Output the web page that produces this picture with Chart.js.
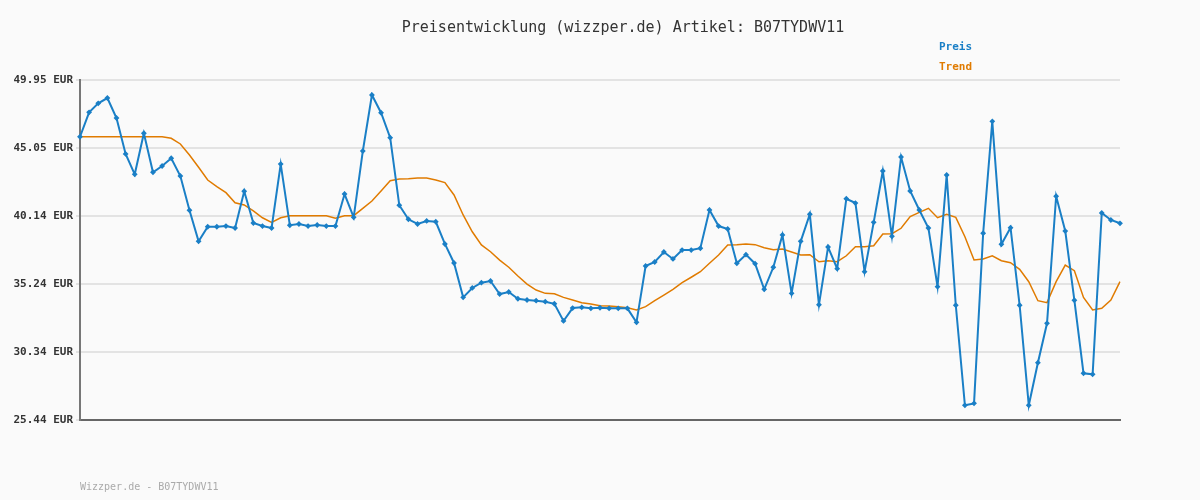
<html>
<body style="margin:0;background:#fafafa">
<div style="width:1200px;height:500px"><canvas id="myChart"></canvas></div>
<script src="https://cdn.jsdelivr.net/npm/chart.js@4/dist/chart.umd.min.js"></script>
<script>
var yTicks = [25.44, 30.34, 35.24, 40.14, 45.05, 49.95];
var preis = [45.86,47.62,48.27,48.65,47.21,44.62,43.15,46.11,43.30,43.75,44.31,43.03,40.56,38.32,39.37,39.37,39.42,39.28,41.93,39.64,
39.42,39.28,43.89,39.48,39.57,39.42,39.50,39.42,39.42,41.73,40.05,44.83,48.87,47.59,45.79,40.92,39.91,39.57,39.79,39.73,
38.13,36.76,34.28,34.96,35.34,35.46,34.52,34.67,34.18,34.09,34.04,33.97,33.82,32.58,33.51,33.56,33.49,33.53,33.49,33.49,
33.49,32.48,36.54,36.83,37.55,37.05,37.69,37.69,37.82,40.58,39.42,39.21,36.74,37.36,36.71,34.86,36.45,38.78,34.57,38.32,
40.27,33.75,37.91,36.35,41.39,41.08,36.13,39.69,43.39,38.68,44.40,41.95,40.58,39.28,35.05,43.10,33.71,26.50,26.64,38.90,
46.97,38.11,39.30,33.71,26.50,29.57,32.41,41.57,39.06,34.07,28.81,28.73,40.36,39.86,39.62];
var trend = [45.86,45.86,45.86,45.86,45.86,45.86,45.86,45.86,45.86,45.86,45.75,45.34,44.54,43.66,42.74,42.26,41.83,41.10,40.94,40.51,
40.02,39.69,40.02,40.17,40.17,40.17,40.17,40.17,39.98,40.17,40.17,40.70,41.23,41.95,42.69,42.81,42.84,42.89,42.89,42.74,
42.55,41.66,40.22,39.01,38.06,37.57,36.97,36.45,35.82,35.24,34.81,34.57,34.54,34.28,34.09,33.90,33.80,33.68,33.66,33.61,
33.53,33.37,33.61,34.04,34.45,34.86,35.34,35.73,36.13,36.74,37.33,38.06,38.08,38.13,38.08,37.86,37.72,37.77,37.55,37.33,
37.36,36.85,36.92,36.85,37.28,37.93,37.93,38.00,38.85,38.87,39.26,40.10,40.41,40.70,40.02,40.27,40.05,38.65,36.97,37.05,
37.28,36.92,36.78,36.30,35.41,34.04,33.90,35.41,36.61,36.20,34.28,33.37,33.49,34.09,35.41];
var labels = preis.map(function (v, i) { return i + 1; });

var textPlugin = {
    id: 'texts',
    afterDraw: function (chart) {
        var ctx = chart.ctx;
        ctx.save();
        ctx.textBaseline = 'middle';
        ctx.font = '15px "DejaVu Sans Mono"';
        ctx.fillStyle = '#333';
        ctx.textAlign = 'center';
        ctx.fillText('Preisentwicklung (wizzper.de) Artikel: B07TYDWV11', 623, 28);
        ctx.textAlign = 'left';
        ctx.font = 'bold 11px "DejaVu Sans Mono"';
        ctx.fillStyle = '#1a7fc6';
        ctx.fillText('Preis', 939, 47);
        ctx.fillStyle = '#e07b00';
        ctx.fillText('Trend', 939, 67);
        ctx.font = '10px "DejaVu Sans Mono"';
        ctx.fillStyle = '#aaa';
        ctx.fillText('Wizzper.de - B07TYDWV11', 80, 487);
        ctx.restore();
    }
};

var ctx = document.getElementById('myChart').getContext('2d');
var chart = new Chart(ctx, {
    type: 'line',
    data: {
        labels: labels,
        datasets: [
            {
                label: 'Preis',
                data: preis,
                borderColor: '#1a7fc6',
                backgroundColor: '#1a7fc6',
                borderWidth: 2,
                pointStyle: 'rectRot',
                pointRadius: 1.5,
                tension: 0
            },
            {
                label: 'Trend',
                data: trend,
                borderColor: '#e07b00',
                borderWidth: 1.5,
                pointRadius: 0,
                tension: 0
            }
        ]
    },
    options: {
        responsive: true,
        maintainAspectRatio: false,
        animation: false,
        layout: { padding: { left: 0, right: 80, top: 80, bottom: 80 } },
        plugins: { legend: { display: false }, tooltip: { enabled: false } },
        scales: {
            x: {
                offset: false,
                ticks: { display: false },
                grid: { display: false },
                border: { color: '#666', width: 2 },
                afterFit: function (s) { s.height = 0; }
            },
            y: {
                min: 25.44,
                max: 49.95,
                afterBuildTicks: function (s) { s.ticks = yTicks.map(function (v) { return { value: v }; }); },
                ticks: {
                    color: '#333',
                    font: { family: 'DejaVu Sans Mono', size: 11, weight: 'bold' },
                    callback: function (v) { return v.toFixed(2) + ' EUR'; }
                },
                grid: { color: '#e3e3e3', lineWidth: 2, tickLength: 4 },
                border: { color: '#777', width: 2 },
                afterFit: function (s) { s.width = 80; }
            }
        }
    },
    plugins: [textPlugin]
});
</script>
</body>
</html>
